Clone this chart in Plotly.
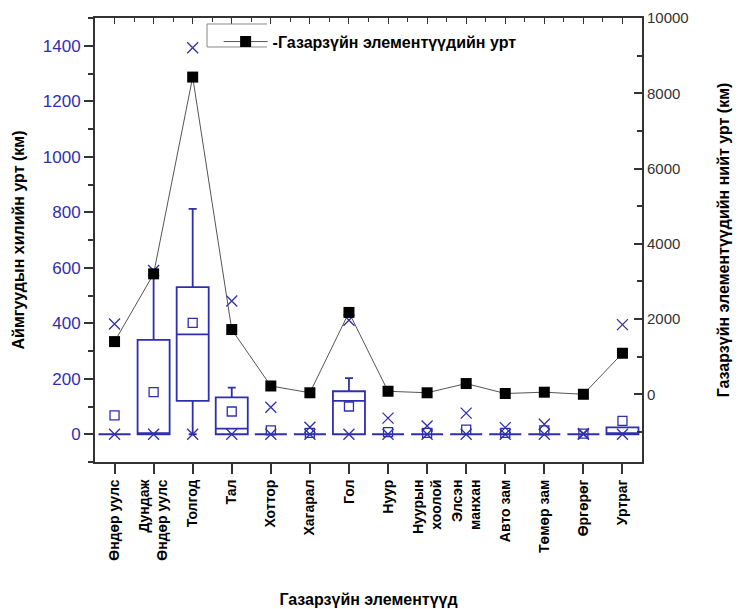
import plotly.graph_objects as go

# ---------------- data ----------------
categories = ["Өндөр уулс", "Дундаж<br>Өндөр уулс", "Толгод", "Тал", "Хоттор", "Хагарал", "Гол",
              "Нуур", "Нуурын<br>хоолой", "Элсэн<br>манхан", "Авто зам", "Төмөр зам", "Өргөрөг", "Уртраг"]
positions = list(range(len(categories)))

# box statistics (left axis, km)
box_q1 = [0, 0, 120, 0, 0, 0, 0, 0, 0, 0, 0, 0, 0, 0]
box_median = [0, 0, 360, 20, 0, 0, 120, 0, 0, 0, 0, 0, 0, 0]
box_q3 = [0, 340, 530, 133, 0, 0, 155, 0, 0, 0, 0, 0, 0, 25]
box_lower = [0, 0, 0, 0, 0, 0, 0, 0, 0, 0, 0, 0, 0, 0]
box_upper = [0, 590, 812, 168, 0, 0, 202, 0, 0, 0, 0, 0, 0, 25]
mean_vals = [68, 152, 401, 82, 14, 5, 100, 8, 5, 17, 5, 14, 2, 48]
min_vals = [0, 0, 0, 0, 0, 0, 0, 0, 0, 0, 0, 0, 0, 0]
max_vals = [397, 590, 1393, 480, 97, 25, 411, 58, 30, 76, 24, 36, 3, 395]

# total length (right axis, km)
total_len = [1400, 3200, 8430, 1720, 220, 40, 2175, 80, 40, 285, 20, 55, 0, 1090]

series_name = "-Газарзүйн элементүүдийн урт"
x_title = "Газарзүйн элементүүд"
y_title = "Аймгуудын хилийн урт (км)"
y2_title = "Газарзүйн элементүүдийн нийт урт (км)"

BLUE = "#2f2fae"
AX = "#333333"
FONT = "Liberation Sans, Arial, sans-serif"

fig = go.Figure()

fig.add_trace(go.Box(
    x=positions, q1=box_q1, median=box_median, q3=box_q3,
    lowerfence=box_lower, upperfence=box_upper,
    width=0.82, whiskerwidth=0.25, boxpoints=False,
    line=dict(color=BLUE, width=1.8), fillcolor="rgba(0,0,0,0)",
    showlegend=False, hoverinfo="skip"))

fig.add_trace(go.Scatter(
    x=positions, y=mean_vals, mode="markers",
    marker=dict(symbol="square-open", size=9, color=BLUE, line=dict(width=1.3)),
    showlegend=False))

fig.add_trace(go.Scatter(
    x=positions + positions, y=min_vals + max_vals, mode="markers",
    marker=dict(symbol="x-thin-open", size=11, color=BLUE, line=dict(width=1.3, color=BLUE)),
    showlegend=False))

fig.add_trace(go.Scatter(
    x=positions, y=total_len, mode="lines+markers", name=series_name, yaxis="y2",
    line=dict(color="#555555", width=1),
    marker=dict(symbol="square", size=11, color="black")))

# dummy trace to show the top mirrored axis
fig.add_trace(go.Scatter(x=[None], y=[None], xaxis="x2", showlegend=False, hoverinfo="skip"))

fig.update_layout(
    width=733, height=601,
    margin=dict(l=87, r=99, t=10, b=147, autoexpand=False),
    paper_bgcolor="white", plot_bgcolor="white",
    font=dict(family=FONT, color="black"),
    showlegend=True,
    legend=dict(x=0.226, y=0.985, xanchor="left", yanchor="top", itemwidth=44,
                bgcolor="rgba(0,0,0,0)", borderwidth=0,
                font=dict(size=16, weight="bold", color="black")),
    xaxis=dict(range=[-0.5, 13.5], tickmode="array", tickvals=positions, ticktext=categories,
               tickangle=-90, ticks="outside", ticklen=10, tickwidth=1.5, tickcolor=AX,
               showline=True, linewidth=2, linecolor=AX, showgrid=False, zeroline=False,
               automargin=True,
               tickfont=dict(size=14, weight="bold", color="black"),
               title=dict(text=x_title, font=dict(size=16, weight="bold"), standoff=34)),
    xaxis2=dict(range=[-0.5, 13.5], overlaying="x", side="top", tickmode="array",
                tickvals=positions, ticks="inside", ticklen=6, tickwidth=1.3, tickcolor=AX,
                minor=dict(ticks="inside", ticklen=4, tickvals=[p + 0.5 for p in positions[:-1]],
                           tickcolor=AX),
                showticklabels=False, showline=True, linewidth=2, linecolor=AX,
                showgrid=False, zeroline=False, automargin=False),
    yaxis=dict(range=[-100, 1500], tick0=0, dtick=200, ticks="outside", ticklen=9, tickwidth=1.5,
               tickcolor=AX, minor=dict(ticks="outside", ticklen=5, dtick=100, tick0=0, tickcolor=AX),
               showline=True, linewidth=2, linecolor=AX, showgrid=False, zeroline=False,
               automargin=True,
               tickfont=dict(size=17, color=BLUE),
               title=dict(text=y_title, font=dict(size=16, weight="bold"), standoff=14)),
    yaxis2=dict(range=[-1800, 10000], tick0=0, dtick=2000, overlaying="y", side="right",
                tickformat="d",
                ticks="inside", ticklen=8, tickwidth=1.5, tickcolor=AX,
                minor=dict(ticks="inside", ticklen=5, dtick=1000, tick0=0, tickcolor=AX),
                showline=True, linewidth=2, linecolor=AX, showgrid=False, zeroline=False,
                automargin=True,
                tickfont=dict(size=15, color="#333333"),
                title=dict(text=y2_title, font=dict(size=16, weight="bold"), standoff=30)),
    shapes=[dict(type="path", xref="paper", yref="paper",
                 path="M 0.3144 0.9865 L 0.2048 0.9865 L 0.2048 0.9347 L 0.3144 0.9347",
                 line=dict(color="#888888", width=1))],
)

fig.write_html("out.html")
